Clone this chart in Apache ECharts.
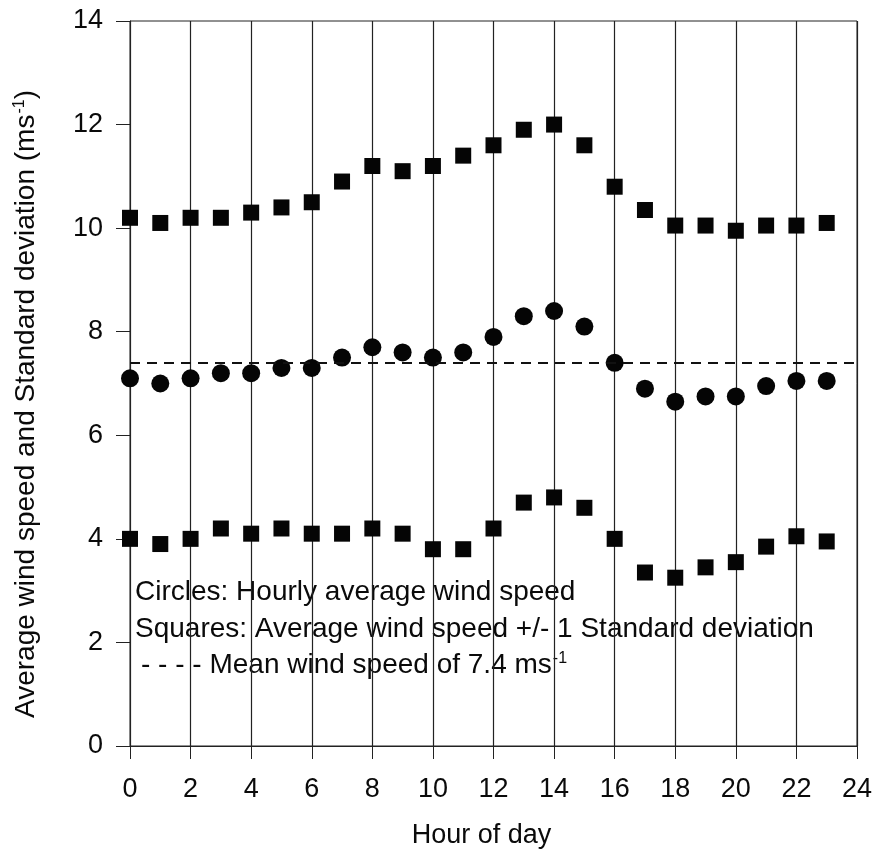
<!DOCTYPE html>
<html>
<head>
<meta charset="utf-8">
<title>Hourly wind speed</title>
<script src="https://cdn.jsdelivr.net/npm/echarts@6/dist/echarts.min.js"></script>
<style>
  html, body { margin: 0; padding: 0; background: #fff; }
  #chart { width: 876px; height: 857px; }
</style>
</head>
<body>
<div id="chart"></div>
<script>
// Hour of day (0-23)
const hours = [0, 1, 2, 3, 4, 5, 6, 7, 8, 9, 10, 11, 12, 13, 14, 15, 16, 17, 18, 19, 20, 21, 22, 23];
// Hourly average wind speed (m/s) - circles
const hourlyMean = [7.1, 7.0, 7.1, 7.2, 7.2, 7.3, 7.3, 7.5, 7.7, 7.6, 7.5, 7.6, 7.9, 8.3, 8.4, 8.1, 7.4, 6.9, 6.65, 6.75, 6.75, 6.95, 7.05, 7.05];
// Average + 1 standard deviation - upper squares
const plusOneSd = [10.2, 10.1, 10.2, 10.2, 10.3, 10.4, 10.5, 10.9, 11.2, 11.1, 11.2, 11.4, 11.6, 11.9, 12.0, 11.6, 10.8, 10.35, 10.05, 10.05, 9.95, 10.05, 10.05, 10.1];
// Average - 1 standard deviation - lower squares
const minusOneSd = [4.0, 3.9, 4.0, 4.2, 4.1, 4.2, 4.1, 4.1, 4.2, 4.1, 3.8, 3.8, 4.2, 4.7, 4.8, 4.6, 4.0, 3.35, 3.25, 3.45, 3.55, 3.85, 4.05, 3.95];
// Overall mean wind speed (m/s)
const overallMean = 7.4;

const pairs = (ys) => hours.map((h, i) => [h, ys[i]]);

const ink = '#0a0a0a';
const lineInk = '#222222';
const markInk = '#050505';
const font = 'Liberation Sans, Arial, Helvetica, sans-serif';
const supStyle = { fontSize: 16, fontFamily: font, color: ink, verticalAlign: 'top', padding: [0, 0, 12, 1] };

const chart = echarts.init(document.getElementById('chart'), null, { renderer: 'canvas' });

chart.setOption({
  backgroundColor: '#ffffff',
  animation: false,
  grid: {
    left: 130, right: 19, top: 21, bottom: 111,
    show: true, borderColor: lineInk, borderWidth: 1, backgroundColor: 'transparent'
  },
  xAxis: {
    type: 'value', min: 0, max: 24, interval: 2,
    axisLine: { show: true, lineStyle: { color: lineInk, width: 1 } },
    axisTick: { show: true, inside: false, length: 13, lineStyle: { color: lineInk, width: 1 } },
    axisLabel: { margin: 30, fontSize: 27, fontFamily: font, color: ink },
    splitLine: { show: true, lineStyle: { color: lineInk, width: 1.2 } },
    name: 'Hour of day', nameLocation: 'middle', nameGap: 76,
    nameTextStyle: { fontSize: 27, fontFamily: font, color: ink, padding: [0, 24, 0, 0] }
  },
  yAxis: {
    type: 'value', min: 0, max: 14, interval: 2,
    axisLine: { show: true, lineStyle: { color: lineInk, width: 1 } },
    axisTick: { show: true, inside: false, length: 14, lineStyle: { color: lineInk, width: 1 } },
    axisLabel: { margin: 27, fontSize: 27, fontFamily: font, color: ink },
    splitLine: { show: false }
  },
  graphic: [
    {
      type: 'text', x: 26, y: 404, rotation: Math.PI / 2,
      style: {
        text: 'Average wind speed and Standard deviation (ms{sup|-1})',
        fontSize: 28, fontFamily: font, fill: ink,
        align: 'center', verticalAlign: 'middle',
        rich: { sup: supStyle }
      }
    },
    {
      type: 'text', x: 135, y: 592,
      style: { text: 'Circles: Hourly average wind speed', fontSize: 28, fontFamily: font, fill: ink, verticalAlign: 'middle' }
    },
    {
      type: 'text', x: 135, y: 629,
      style: { text: 'Squares: Average wind speed +/- 1 Standard deviation', fontSize: 28, fontFamily: font, fill: ink, verticalAlign: 'middle' }
    },
    {
      type: 'text', x: 141, y: 665,
      style: {
        text: '- - - - Mean wind speed of ' + overallMean.toFixed(1) + ' ms{sup|-1}',
        fontSize: 28, fontFamily: font, fill: ink, verticalAlign: 'middle',
        rich: { sup: supStyle }
      }
    }
  ],
  series: [
    {
      name: 'Hourly average wind speed',
      type: 'scatter',
      data: pairs(hourlyMean),
      symbol: 'circle', symbolSize: 18,
      itemStyle: { color: markInk, opacity: 1 },
      z: 3,
      markLine: {
        silent: true, symbol: 'none', label: { show: false },
        lineStyle: { color: '#111111', type: [10, 7], width: 2, opacity: 1 },
        data: [{ yAxis: overallMean }]
      }
    },
    {
      name: 'Average + 1 SD',
      type: 'scatter',
      data: pairs(plusOneSd),
      symbol: 'rect', symbolSize: 16,
      itemStyle: { color: markInk, opacity: 1 },
      z: 3
    },
    {
      name: 'Average - 1 SD',
      type: 'scatter',
      data: pairs(minusOneSd),
      symbol: 'rect', symbolSize: 16,
      itemStyle: { color: markInk, opacity: 1 },
      z: 3
    }
  ]
});
</script>
</body>
</html>
